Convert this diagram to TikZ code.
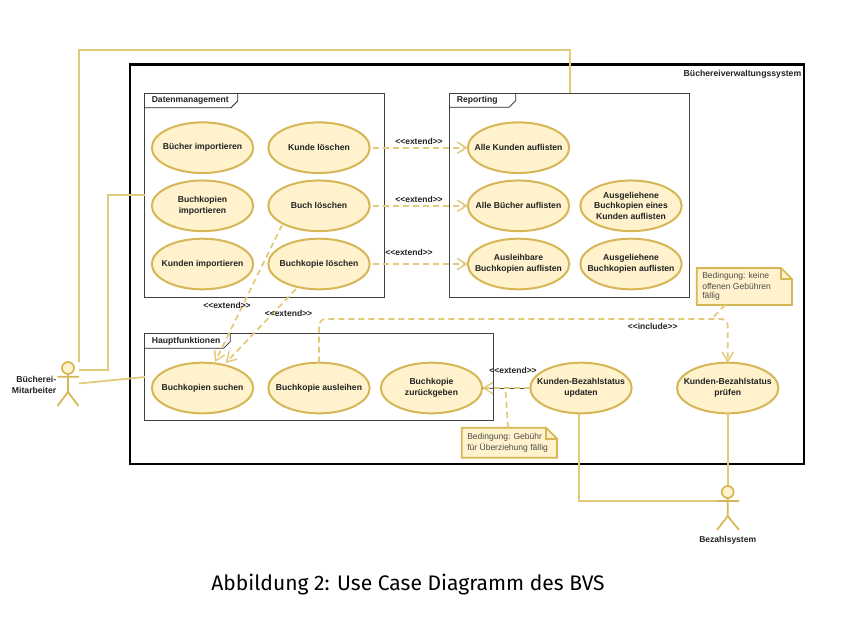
\documentclass[tikz,border=0pt]{standalone}
\usepackage{fontspec}
\setmainfont{Liberation Sans}
\newfontfamily\capfont{Fira Sans}
\usetikzlibrary{arrows.meta,shapes.geometric,calc}
\definecolor{gold}{HTML}{D6B656}
\definecolor{goldline}{HTML}{E3C97A}
\definecolor{goldfill}{HTML}{FFF2CC}
\definecolor{ink}{HTML}{222222}
\tikzset{
  x=0.75pt,y=-0.75pt,
  uctext/.style={align=center,font=\fontsize{6.45}{8}\selectfont\bfseries,text=ink,inner sep=0pt},
  usecase/.style={ellipse,draw=gold,fill=goldfill,line width=1.5pt,minimum width=76pt,minimum height=38pt,inner sep=0pt,outer sep=0pt,label={[uctext]center:#1}},
  frameb/.style={draw=black!75,line width=0.75pt,rectangle,anchor=north west,inner sep=0pt,outer sep=0pt},
  tabtext/.style={font=\fontsize{6.45}{8}\selectfont\bfseries,text=ink,anchor=west,inner sep=0pt},
  lbl/.style={font=\fontsize{6.4}{8}\selectfont\bfseries,text=ink,inner sep=0pt},
  assoc/.style={draw=goldline,line width=1.3pt},
  dep/.style={draw=goldline,line width=1.3pt,dash pattern=on 4.5pt off 3pt},
  open/.style={-{Straight Barb[length=7pt,width=8.5pt,line width=1.1pt]}},
  notet/.style={font=\fontsize{6.4}{8}\selectfont,text=black!70,anchor=west,inner sep=0pt},
  actorl/.style={draw=gold,line width=1.3pt},
}
\begin{document}
\begin{tikzpicture}
\useasboundingbox (0,0) rectangle (862,622);
% frames
\node[rectangle,draw=black,line width=1.9pt,anchor=north west,inner sep=0pt,outer sep=0pt,minimum width=505.5pt,minimum height=299.6pt] (sys) at (130,64.5) {};
\node[lbl,anchor=north east,font=\fontsize{6.5}{8}\selectfont\bfseries] (systitle) at (801.5,69.5) {Büchereiverwaltungssystem};
\node[frameb,minimum width=180pt,minimum height=153pt] (dm) at (144.5,93) {};
\node[frameb,minimum width=180pt,minimum height=153pt] (rep) at (449.7,93) {};
\node[frameb,minimum width=261.5pt,minimum height=65.5pt] (hf) at (144.7,333.3) {};
\draw[black!85,line width=0.6pt] (144.5,107.7) -- (231,107.7) -- (237.7,101) -- (237.7,93);
\draw[black!85,line width=0.6pt] (449.7,107.3) -- (509,107.3) -- (515.7,100.6) -- (515.7,93);
\draw[black!85,line width=0.6pt] (144.7,348.3) -- (223.6,348.3) -- (230.3,341.6) -- (230.3,333.3);
\node[tabtext] (dmt) at (151.5,100.5) {Datenmanagement};
\node[tabtext] (rept) at (456.7,100.5) {Reporting};
\node[tabtext] (hft) at (151.7,341) {Hauptfunktionen};
% use cases
\node[usecase={Bücher importieren}] (bi) at (202.5,147.7) {};
\node[usecase={Buchkopien\\importieren}] (bki) at (202.5,205.8) {};
\node[usecase={Kunden importieren}] (ki) at (202.5,264) {};
\node[usecase={Kunde löschen}] (kl) at (319,147.7) {};
\node[usecase={Buch löschen}] (bl) at (319,205.8) {};
\node[usecase={Buchkopie löschen}] (bkl) at (319,264) {};
\node[usecase={Alle Kunden auflisten}] (ak) at (518.5,147.7) {};
\node[usecase={Alle Bücher auflisten}] (ab) at (518.5,205.8) {};
\node[usecase={Ausleihbare\\Buchkopien auflisten}] (ab2) at (518.5,264) {};
\node[usecase={Ausgeliehene\\Buchkopien eines\\Kunden auflisten}] (ag1) at (631,205.8) {};
\node[usecase={Ausgeliehene\\Buchkopien auflisten}] (ag2) at (631,264) {};
\node[usecase={Buchkopien suchen}] (bs) at (202.5,388) {};
\node[usecase={Buchkopie ausleihen}] (ba) at (319,388) {};
\node[usecase={Buchkopie\\zurückgeben}] (bz) at (431.5,388) {};
\node[usecase={Kunden-Bezahlstatus\\updaten}] (ku) at (581,388) {};
\node[usecase={Kunden-Bezahlstatus\\prüfen}] (kp) at (727.7,388) {};
% notes
\draw[gold,fill=goldfill,line width=1.3pt,line join=miter] (696.7,268) -- (781,268) -- (792,279) -- (792,305) -- (696.7,305) -- cycle;
\draw[gold,line width=1.3pt] (781,268) -- (781,279) -- (792,279);
\node[notet] (n1t1) at (702,276) {Bedingung: keine};
\node[notet] (n1t2) at (702,286) {offenen Gebühren};
\node[notet] (n1t3) at (702,296.5) {fällig};
\draw[gold,fill=goldfill,line width=1.3pt] (461.7,427.7) -- (546,427.7) -- (557,438.7) -- (557,457.7) -- (461.7,457.7) -- cycle;
\draw[gold,line width=1.3pt] (546,427.7) -- (546,438.7) -- (557,438.7);
\node[notet] (n2t1) at (467,437.5) {Bedingung: Gebühr};
\node[notet] (n2t2) at (467,448) {für Überziehung fällig};
% connector end points
\coordinate (a1top) at (79,362);
\coordinate (a1mid) at (79,370);
\coordinate (a1low) at (79,383.5);
\coordinate (repT) at (570,93);
\coordinate (dmW) at (144.5,195);
\coordinate (hfW) at (145,377);
\coordinate (a2arm) at (717,501);
\coordinate (a2head) at (727.7,486);
\coordinate (n1foot) at (725,305);
\coordinate (n1join) at (711.7,319);
\coordinate (n2top) at (508,427.7);
\coordinate (n2join) at (505.5,389);
% associations
\draw[assoc] (a1top) -- (79,49.7) -- (570,49.7) -- (repT);
\draw[assoc] (a1mid) -- (108.3,370) -- (108.3,195) -- (dmW);
\draw[assoc] (a1low) -- (hfW);
\draw[assoc] (578.7,414) -- (578.7,501) -- (a2arm);
\draw[assoc] (kp.south) -- (a2head);
% extends
\draw[dep,open] (373,147.7) -- (ak.west);
\draw[dep,open] (373,205.8) -- (ab.west);
\draw[dep,open] (373,264) -- (ab2.west);
\draw[dep,open] (282,225) -- (215,362);
\draw[dep,open] (296,289) -- (225.7,363);
\draw[dep,open,rounded corners=5pt] (ba.north) -- (319,319) -- (727.7,319) -- (kp.north);
\draw[dep] (n1foot) -- (n1join);
\draw[dep] (n2top) -- (n2join);
\draw[black!70,line width=0.6pt] (ku.west) -- (bz.east);
\draw[dep,open] (ku.west) -- (bz.east);
\node[lbl] (e1) at (419,141) {<{}<extend>{}>};
\node[lbl] (e2) at (419,199) {<{}<extend>{}>};
\node[lbl] (e3) at (409,252.5) {<{}<extend>{}>};
\node[lbl] (e4) at (227,305) {<{}<extend>{}>};
\node[lbl] (e5) at (288.5,313) {<{}<extend>{}>};
\node[lbl] (e6) at (513,370) {<{}<extend>{}>};
\node[lbl] (inc) at (652.7,326.7) {<{}<include>{}>};
% actors
\draw[actorl,fill=goldfill] (68,368) circle (6);
\draw[actorl] (68,374) -- (68,392) (57.3,376.7) -- (79,376.7) (57.5,406) -- (68,392) -- (78.5,406);
\node[lbl,align=right,anchor=east,font=\fontsize{6.5}{8.3}\selectfont\bfseries] (a1l) at (56.5,384.5) {Bücherei-\\Mitarbeiter};
\draw[actorl,fill=goldfill] (727.7,492) circle (6);
\draw[actorl] (727.7,498) -- (727.7,516) (717,501) -- (739,501) (717,530) -- (727.7,516) -- (739,530);
\node[lbl,font=\fontsize{6.4}{8}\selectfont\bfseries] (a2l) at (727.7,540) {Bezahlsystem};
% caption
\node[font=\capfont\fontsize{15.8}{18}\selectfont,text=black,inner sep=0pt] (cap) at (408,585) {Abbildung 2: Use Case Diagramm des BVS};
\end{tikzpicture}
\end{document}
